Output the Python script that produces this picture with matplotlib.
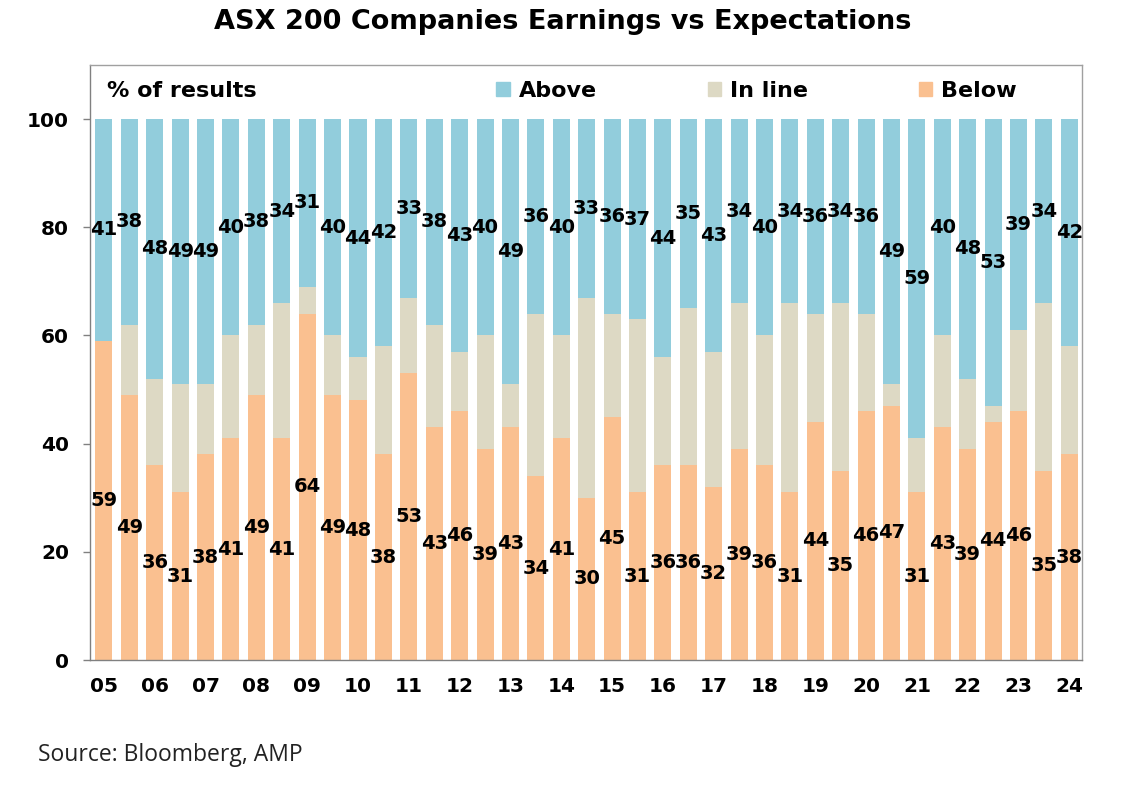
import numpy as np
import matplotlib.pyplot as plt
from matplotlib.patches import Patch

plt.rcParams['font.family'] = ['DejaVu Sans']

#REPORTING SEASONS, TWO PER YEAR (FEB AND AUG)
years = ['05', '06', '07', '08', '09', '10', '11', '12', '13', '14',
         '15', '16', '17', '18', '19', '20', '21', '22', '23', '24']

#% OF RESULTS ABOVE EXPECTATIONS
above = [41, 38, 48, 49, 49, 40, 38, 34, 31, 40, 44, 42, 33, 38, 43, 40, 49, 36, 40, 33,
         36, 37, 44, 35, 43, 34, 40, 34, 36, 34, 36, 49, 59, 40, 48, 53, 39, 34, 42]
#% OF RESULTS BELOW EXPECTATIONS
below = [59, 49, 36, 31, 38, 41, 49, 41, 64, 49, 48, 38, 53, 43, 46, 39, 43, 34, 41, 30,
         45, 31, 36, 36, 32, 39, 36, 31, 44, 35, 46, 47, 31, 43, 39, 44, 46, 35, 38]

above = np.array(above)
below = np.array(below)
inline = 100 - above - below

c_above = '#92CDDC'
c_inline = '#DDD9C4'
c_below = '#FAC090'

fig = plt.figure(figsize=(11.26, 7.9), dpi=100)
ax = fig.add_axes([90/1126, 1 - 660/790, 992/1126, 595/790])

x = np.arange(len(below))
w = 0.67
ax.bar(x, below, w, color=c_below)
ax.bar(x, inline, w, bottom=below, color=c_inline)
ax.bar(x, above, w, bottom=below + inline, color=c_above)

#DATA LABELS IN THE MIDDLE OF EACH SEGMENT
for i in x:
    ax.text(i, below[i] / 2, str(below[i]), ha='center', va='center',
            fontsize=14, fontweight='bold', color='black')
    ax.text(i, 100 - above[i] / 2, str(above[i]), ha='center', va='center',
            fontsize=14, fontweight='bold', color='black')

ax.set_xlim(-0.55, len(x) - 0.5)
ax.set_ylim(0, 110)
ax.set_yticks(range(0, 101, 20))
ax.set_yticklabels([str(v) for v in range(0, 101, 20)], fontsize=14.5, fontweight='bold')
ax.set_xticks(x[::2])
ax.set_xticklabels(years, fontsize=14.5, fontweight='bold')
ax.tick_params(axis='x', length=0, pad=12)
ax.tick_params(axis='y', length=5, width=1, color='#808080', pad=10, direction='out')

for s in ax.spines.values():
    s.set_color('#A0A0A0')
    s.set_linewidth(1)
ax.spines['bottom'].set_color('#808080')
ax.spines['left'].set_color('#808080')

ax.text(0.017, 0.957, '% of results', transform=ax.transAxes, fontsize=16,
        fontweight='bold', ha='left', va='center')

handles = [Patch(color=c_above, label='Above'),
           Patch(color=c_inline, label='In line'),
           Patch(color=c_below, label='Below')]
ax.legend(handles=handles, ncol=3, loc='center', bbox_to_anchor=(0.672, 0.957),
          frameon=False, handlelength=0.6, handleheight=0.6, handletextpad=0.4,
          columnspacing=5.0, prop={'weight': 'bold', 'size': 16})

fig.text(0.5, 0.972, 'ASX 200 Companies Earnings vs Expectations', ha='center', va='center',
         fontsize=19.5, fontweight='bold')
fig.text(38/1126, 1 - 755/790, 'Source: Bloomberg, AMP', ha='left', va='center',
         fontsize=16.5, family=['Open Sans', 'DejaVu Sans'], color='#222222')

fig.savefig('out.png', dpi=100)
